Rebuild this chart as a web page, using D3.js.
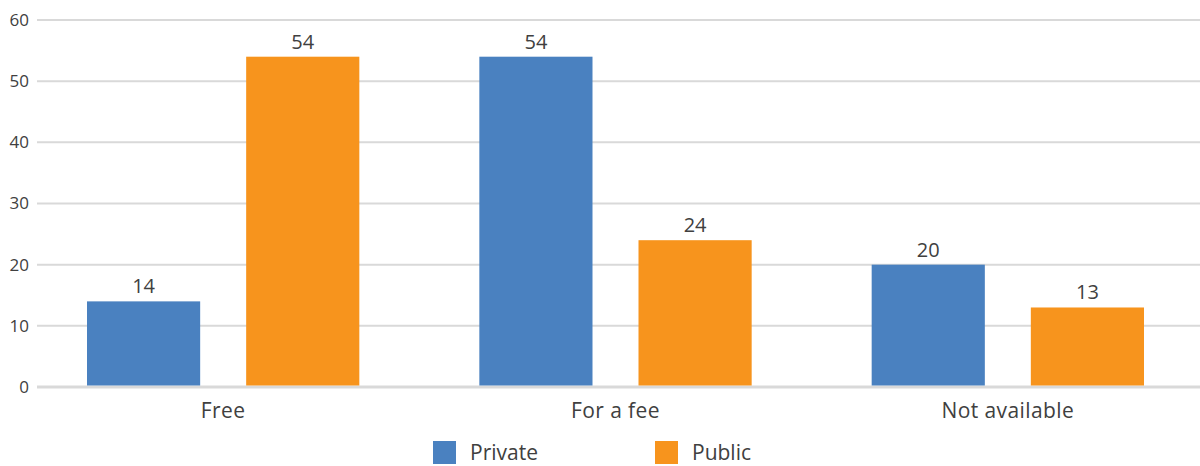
<!DOCTYPE html>
<html><head><meta charset="utf-8">
<script src="https://cdn.jsdelivr.net/npm/d3@7"></script>
<style>body{margin:0;background:#fff}svg{display:block}text{font-family:"Open Sans",Lato,sans-serif;fill:#404040}</style>
</head><body><svg id="c" width="1200" height="466"></svg>
<script>
const categories = ["Free", "For a fee", "Not available"];
const seriesNames = ["Private", "Public"];
const privateVals = [14, 54, 20];
const publicVals = [54, 24, 13];
const yTicks = [0, 10, 20, 30, 40, 50, 60];
const colors = ["#4a81c0", "#f7941d"];

const svg = d3.select("#c");
const y = d3.scaleLinear().domain([0, 60]).range([387, 20]);
const x0 = d3.scaleBand().domain(categories).range([27, 1204]);
const x1 = d3.scaleBand().domain(seriesNames).range([0, x0.bandwidth()]).paddingInner(0.289).paddingOuter(0.377);

// gridlines
svg.append("g").selectAll("line").data(yTicks).join("line")
  .attr("x1", 37).attr("x2", 1200)
  .attr("y1", d => y(d)).attr("y2", d => y(d))
  .attr("stroke", "#d9d9d9").attr("stroke-width", d => d === 0 ? 3 : 2);

// y labels
svg.append("g").selectAll("text").data(yTicks).join("text")
  .attr("x", 29).attr("y", d => y(d)).attr("dy", "0.35em")
  .attr("text-anchor", "end").style("font-size", "17px").text(d => d);

const data = categories.map((c, i) => ({cat: c, vals: [privateVals[i], publicVals[i]]}));
const g = svg.append("g").selectAll("g").data(data).join("g")
  .attr("transform", d => `translate(${x0(d.cat)},0)`);
g.selectAll("rect").data(d => d.vals.map((v, j) => ({s: seriesNames[j], v, j}))).join("rect")
  .attr("x", d => x1(d.s)).attr("width", x1.bandwidth())
  .attr("y", d => y(d.v)).attr("height", d => y(0) - y(d.v) - 1.5)
  .attr("fill", d => colors[d.j]);
g.selectAll("text").data(d => d.vals.map((v, j) => ({s: seriesNames[j], v, j}))).join("text")
  .attr("x", d => x1(d.s) + x1.bandwidth() / 2).attr("y", d => y(d.v) - 8)
  .attr("text-anchor", "middle").style("font-size", "20px").text(d => d.v);

// x labels
svg.append("g").selectAll("text").data(categories).join("text")
  .attr("x", d => x0(d) + x0.bandwidth() / 2).attr("y", 418)
  .attr("text-anchor", "middle").style("font-size", "21px").style("letter-spacing", "0.4px").text(d => d);

// legend
const leg = svg.append("g").selectAll("g").data(seriesNames).join("g")
  .attr("transform", (d, i) => `translate(${433 + i * 222},441)`);
leg.append("rect").attr("width", 23).attr("height", 23).attr("fill", (d, i) => colors[i]);
leg.append("text").attr("x", 37).attr("y", 12).attr("dy", "0.35em").style("font-size", "21px").text(d => d);
</script></body></html>
